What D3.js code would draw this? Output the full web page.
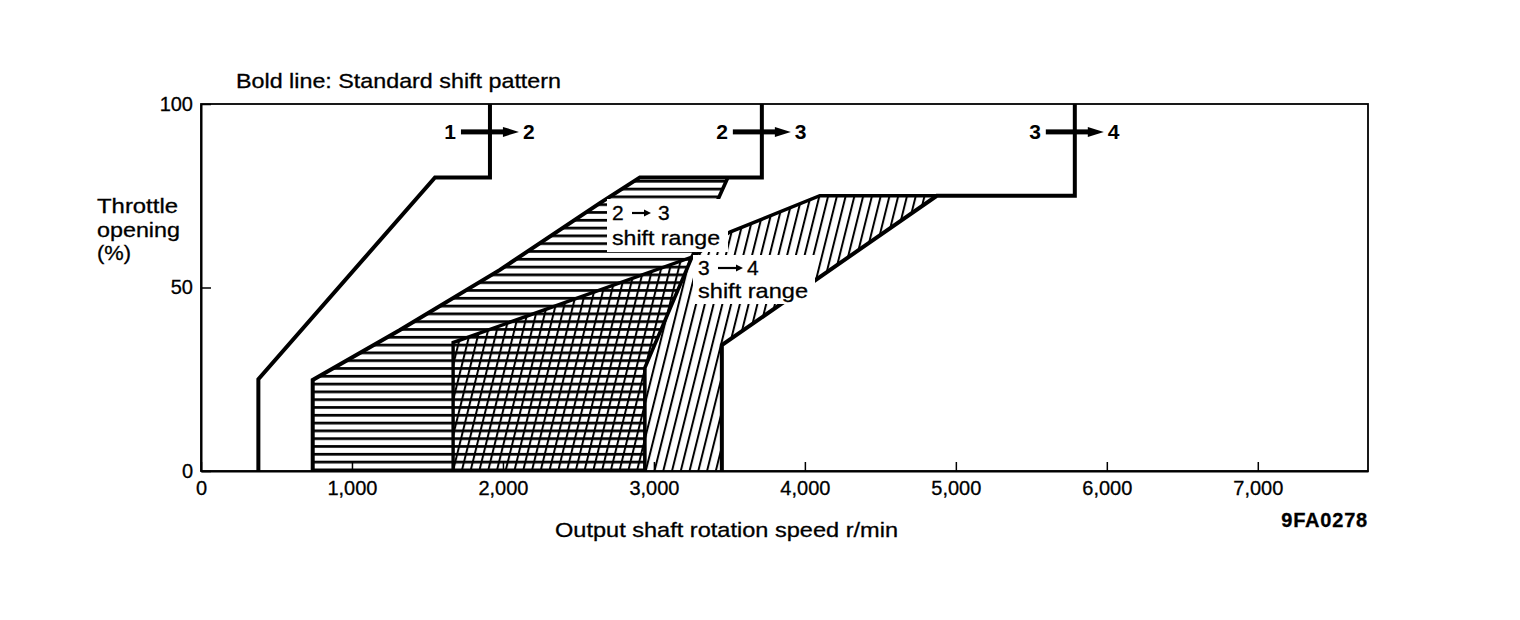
<!DOCTYPE html>
<html><head><meta charset="utf-8">
<script src="https://cdn.jsdelivr.net/npm/d3@7"></script>
<style>
html,body{margin:0;padding:0;background:#fff;}
svg{display:block;font-family:"Liberation Sans",Arial,Helvetica,sans-serif;}
</style></head><body>
<svg id="chart" width="1520" height="620"></svg>
<script>
// ---- data ----
const xTicks = [0, 1000, 2000, 3000, 4000, 5000, 6000, 7000];
const xTickLabels = ["0", "1,000", "2,000", "3,000", "4,000", "5,000", "6,000", "7,000"];
const yTicks = [0, 50, 100];
const yTickLabels = ["0", "50", "100"];

// Standard shift pattern lines: [output shaft r/min, throttle %]
const std12 = [[380, 0], [380, 25], [1550, 80], [1914, 80], [1914, 100]];
const std23 = [[740, 0], [740, 24.8], [1318, 38.4], [1980, 54.8], [2642, 73], [2907, 80], [3715, 80], [3715, 100]];
const std34 = [[3450, 0], [3450, 34.3], [4874, 75], [5788, 75], [5788, 100]];

// Shift ranges
const range23 = [[740, 0], [740, 24.8], [1318, 38.4], [1980, 54.8], [2642, 73], [2907, 80], [3490, 80], [3252, 58.3], [2940, 28.1], [2940, 0]];
const range34 = [[1670, 0], [1670, 35], [3252, 58.3], [3503, 65.1], [4099, 75], [4874, 75], [3450, 34.3], [3450, 0]];
const range23Edge = [[3490, 80], [3252, 58.3], [2940, 28.1], [2940, 0]];
const range34Edge = [[1670, 0], [1670, 35], [3252, 58.3], [3503, 65.1], [4099, 75], [4874, 75]];

const shiftFrom = ["1", "2", "3"];
const shiftTo = ["2", "3", "4"];
const shiftRpm = [1914, 3715, 5788];
const shiftArrowThrottle = 92.4;

// ---- drawing ----
const svg = d3.select("#chart");
const x = d3.scaleLinear().domain([0, 7730]).range([201, 1368]);
const y = d3.scaleLinear().domain([0, 100]).range([471, 104]);
const line = d3.line().x(d => x(d[0])).y(d => y(d[1]));

const defs = svg.append("defs");
const ph = defs.append("pattern").attr("id", "hatchH").attr("patternUnits", "userSpaceOnUse")
  .attr("width", 20).attr("height", 7.8).attr("y", 0.5);
ph.append("rect").attr("x", 0).attr("y", 0).attr("width", 20).attr("height", 2.7).attr("fill", "#000");
const pd = defs.append("pattern").attr("id", "hatchD").attr("patternUnits", "userSpaceOnUse")
  .attr("width", 8.5).attr("height", 20).attr("patternTransform", "rotate(14)");
pd.append("rect").attr("x", 0).attr("y", 0).attr("width", 2).attr("height", 20).attr("fill", "#000");

// frame
svg.append("rect").attr("x", x(0)).attr("y", y(100)).attr("width", x(7730) - x(0)).attr("height", y(0) - y(100))
  .attr("fill", "none").attr("stroke", "#000").attr("stroke-width", 1.8);

// hatched regions
svg.append("path").attr("d", line(range23) + "Z").attr("fill", "url(#hatchH)");
svg.append("path").attr("d", line(range34) + "Z").attr("fill", "url(#hatchD)");

// edges and standard lines
const bold = (data, w) => svg.append("path").attr("d", line(data)).attr("fill", "none")
  .attr("stroke", "#000").attr("stroke-width", w).attr("stroke-linejoin", "miter");
bold(range23Edge, 3.6);
bold(range34Edge, 3.4);
bold(std12, 4);
bold(std23, 4);
bold(std34, 4);

// label backgrounds
svg.append("rect").attr("x", 607).attr("y", 199).attr("width", 121).attr("height", 53).attr("fill", "#fff");
svg.append("rect").attr("x", 693).attr("y", 255).attr("width", 122).attr("height", 49).attr("fill", "#fff");

// axes
const xAxis = d3.axisBottom(x).tickValues(xTicks).tickFormat((d, i) => xTickLabels[i])
  .tickSizeInner(-9).tickSizeOuter(0).tickPadding(10);
const gx = svg.append("g").attr("transform", `translate(0,${y(0)})`).call(xAxis);
gx.select(".domain").attr("stroke-width", 2.2);
gx.selectAll(".tick line").attr("stroke-width", 1.5);
gx.selectAll(".tick text").attr("font-size", 20).attr("font-family", "Liberation Sans, Arial, sans-serif")
  .attr("fill", "#000").attr("stroke", "#000").attr("stroke-width", 0.3);

const yAxis = d3.axisLeft(y).tickValues(yTicks).tickFormat((d, i) => yTickLabels[i])
  .tickSizeInner(-10).tickSizeOuter(0).tickPadding(8);
const gy = svg.append("g").attr("transform", `translate(${x(0)},0)`).call(yAxis);
gy.select(".domain").attr("stroke-width", 2);
gy.selectAll(".tick line").attr("stroke-width", 1.5);
gy.selectAll(".tick text").attr("font-size", 20).attr("font-family", "Liberation Sans, Arial, sans-serif")
  .attr("fill", "#000").attr("stroke", "#000").attr("stroke-width", 0.3);

// shift arrows
const ay = y(shiftArrowThrottle);
shiftRpm.forEach((r, i) => {
  const cx = x(r);
  svg.append("rect").attr("x", cx - 29).attr("y", ay - 2.5).attr("width", 45).attr("height", 5).attr("fill", "#000");
  svg.append("path").attr("d", `M${cx + 13},${ay - 5}L${cx + 29},${ay}L${cx + 13},${ay + 5}Z`).attr("fill", "#000");
  svg.append("text").attr("x", cx - 34).attr("y", ay + 7.5).attr("text-anchor", "end")
    .attr("font-size", 21).attr("font-weight", "bold").text(shiftFrom[i]);
  svg.append("text").attr("x", cx + 33).attr("y", ay + 7.5).attr("text-anchor", "start")
    .attr("font-size", 21).attr("font-weight", "bold").text(shiftTo[i]);
});

// texts
const txt = (s, tx, ty, size, len, anchor) => {
  const t = svg.append("text").attr("x", tx).attr("y", ty).attr("font-size", size).attr("fill", "#000")
    .attr("stroke", "#000").attr("stroke-width", 0.3)
    .attr("text-anchor", anchor || "start").text(s);
  if (len) t.attr("textLength", len).attr("lengthAdjust", "spacingAndGlyphs");
  return t;
};
// small text arrow (for "2 → 3" style labels)
const smallArrow = (x0, x1, yc) => {
  svg.append("line").attr("x1", x0).attr("x2", x1 - 6).attr("y1", yc).attr("y2", yc)
    .attr("stroke", "#000").attr("stroke-width", 2.2);
  svg.append("path").attr("d", `M${x1 - 7},${yc - 3.5}L${x1},${yc}L${x1 - 7},${yc + 3.5}Z`).attr("fill", "#000");
};
txt("Bold line: Standard shift pattern", 236, 88, 21, 325);
txt("Throttle", 97, 213, 21, 81);
txt("opening", 97, 237, 21, 83);
txt("(%)", 97, 260, 21, 34);
txt("2", 612, 220, 21);
smallArrow(632, 651, 213);
txt("3", 658, 220, 21);
txt("shift range", 612, 245, 21, 108);
txt("3", 698, 275, 21);
smallArrow(718, 743, 268);
txt("4", 747, 275, 21);
txt("shift range", 698, 298, 21, 110);
txt("Output shaft rotation speed r/min", 555, 537, 21, 343);
txt("9FA0278", 1368, 527, 20, null, "end").attr("font-weight", "bold").attr("letter-spacing", 0.8);
</script>
</body></html>
